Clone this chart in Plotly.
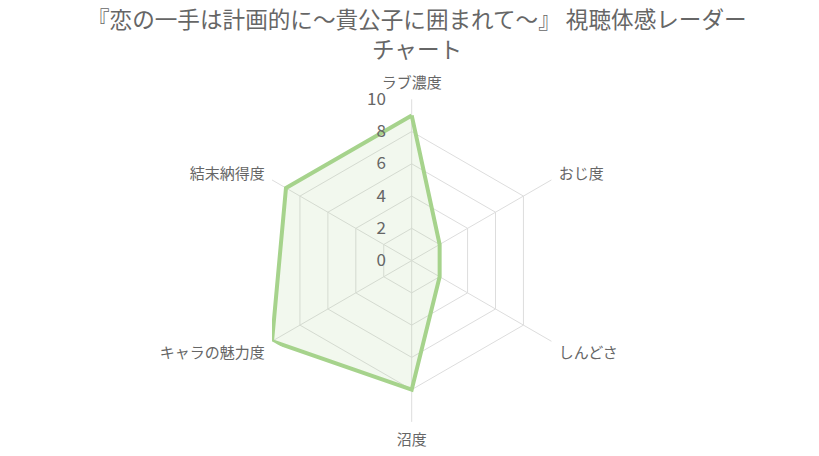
import plotly.graph_objects as go

categories = ["ラブ濃度", "おじ度", "しんどさ", "沼度", "キャラの魅力度", "結末納得度"]
values = [9, 2, 2, 8, 10, 9]
tick_vals = [0, 2, 4, 6, 8, 10]
title_lines = ["『恋の一手は計画的に～貴公子に囲まれて～』 視聴体感レーダー", "チャート"]

FONT = "Noto Sans CJK JP"
W, H = 819, 456
CX, CY, R = 411.7, 260.6, 161.3

# transparent padding keeps the radial tick labels clear of the axis, as in the reference
PAD = "<span style='color:rgba(0,0,0,0)'>00\u00a0</span>"

fig = go.Figure()
fig.add_trace(go.Scatterpolar(
    r=values + values[:1],
    theta=categories + categories[:1],
    mode="lines",
    line=dict(color="#a6d38c", width=4),
    fill="toself",
    fillcolor="rgba(166,211,140,0.15)",
    hoverinfo="skip",
))

annotations = [
    dict(text=line, x=417 / W, y=1 - ypx / H, xref="paper", yref="paper",
         xanchor="center", yanchor="middle", showarrow=False,
         font=dict(family=FONT, size=22.6, color="#666666"))
    for line, ypx in zip(title_lines, [19, 48])
]

fig.update_layout(
    width=W, height=H,
    paper_bgcolor="white",
    margin=dict(l=0, r=0, t=0, b=0),
    showlegend=False,
    font=dict(family=FONT, color="#666666"),
    annotations=annotations,
    polar=dict(
        domain=dict(x=[(CX - R) / W, (CX + R) / W], y=[1 - (CY + R) / H, 1 - (CY - R) / H]),
        bgcolor="white",
        gridshape="linear",
        radialaxis=dict(
            range=[0, 10], tickvals=tick_vals, ticktext=[str(v) + PAD for v in tick_vals],
            angle=90, tickangle=90, side="counterclockwise",
            showline=False, ticks="", gridcolor="#dddddd", gridwidth=1,
            tickfont=dict(family=FONT, size=17, color="#666666"),
        ),
        angularaxis=dict(
            rotation=90, direction="clockwise",
            gridcolor="#dddddd", linecolor="#dddddd", showline=False,
            ticks="outside", ticklen=5, tickcolor="rgba(0,0,0,0)",
            tickfont=dict(family=FONT, size=15, color="#666666"),
        ),
    ),
)

fig.write_html("out.html", config={"displayModeBar": False},
               post_script="document.body.style.margin='0';")
